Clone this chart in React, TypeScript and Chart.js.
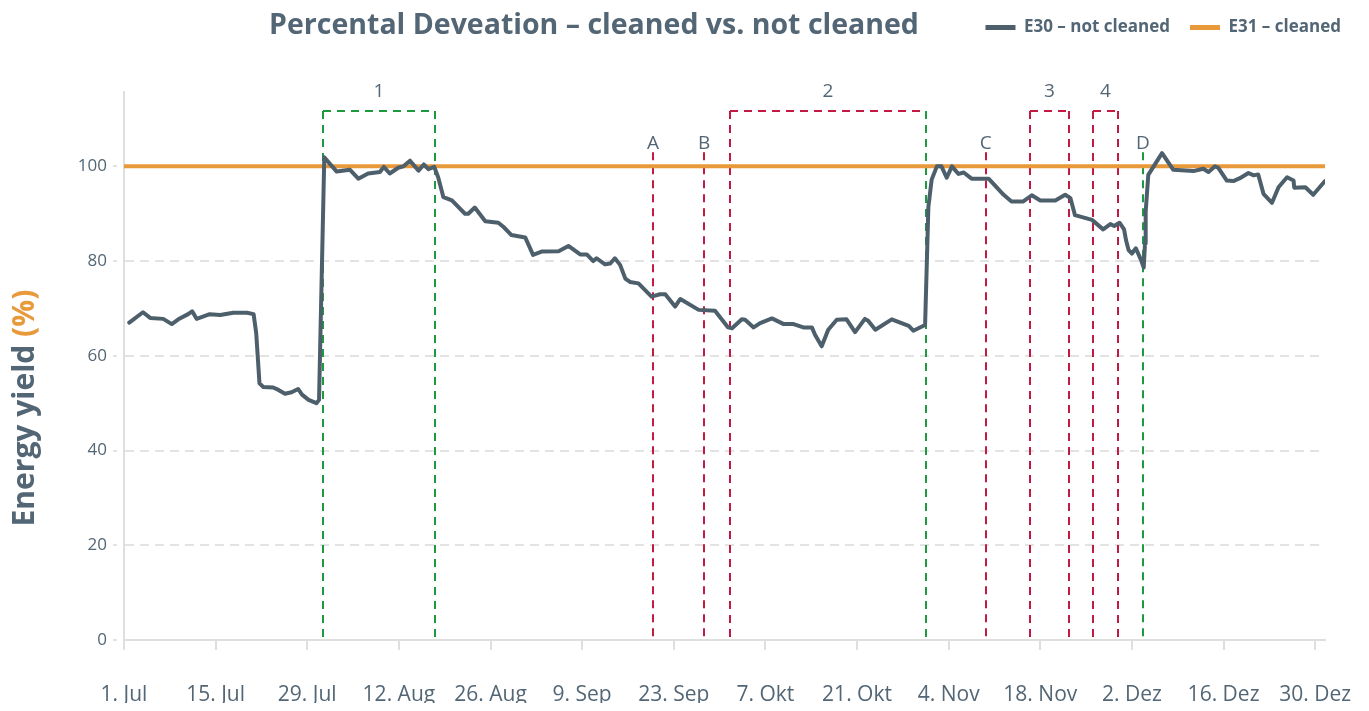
import React, { useEffect, useRef } from 'react';
import { Chart, registerables } from 'chart.js';

Chart.register(...registerables);

// ---------- data ----------
const tickLabels = ['1. Jul', '15. Jul', '29. Jul', '12. Aug', '26. Aug', '9. Sep', '23. Sep', '7. Okt', '21. Okt', '4. Nov', '18. Nov', '2. Dez', '16. Dez', '30. Dez'];
const tickStepDays = 14;
const axisMaxDay = 183.5;
const yAxisMax = 115.7;
const yTickStep = 20;

const chartTitle = 'Percental Deveation – cleaned vs. not cleaned';
const yTitleMain = 'Energy yield ';
const yTitleUnit = '(%)';

const seriesNames = ['E30 – not cleaned', 'E31 – cleaned'];

// day offsets from 1. Jul
const notCleanedDays = [
  0.8, 2.9, 4.0, 6.0, 7.3, 8.3, 9.8, 10.4, 10.6, 11.1, 13.1, 14.7, 16.7, 18.8, 19.8, 20.2, 20.7, 21.3, 22.8, 23.6,
  24.6, 25.6, 26.6, 27.2, 28.2, 29.4, 29.8, 30.6, 32.5, 34.5, 35.8, 37.3, 39.1, 39.7, 40.6, 41.9, 42.7, 43.7, 45.0, 45.8,
  46.5, 47.4, 48.0, 48.8, 50.1, 52.1, 52.6, 53.6, 55.2, 57.2, 58.0, 59.2, 61.3, 62.5, 63.8, 66.4, 67.9, 69.7, 70.7, 71.7,
  72.2, 73.5, 74.3, 75.0, 75.8, 76.6, 77.3, 78.6, 80.6, 81.9, 82.7, 84.2, 85.0, 87.8, 90.3, 92.3, 92.9, 94.4, 94.9, 96.2,
  97.2, 99.0, 100.8, 102.3, 103.8, 105.1, 105.6, 106.6, 107.6, 108.9, 110.4, 111.7, 113.2, 113.7, 114.8, 117.3, 119.9, 120.6, 122.4, 122.9,
  123.4, 124.2, 124.9, 125.7, 126.5, 127.5, 128.3, 129.5, 132.1, 134.4, 135.6, 137.4, 138.7, 140.0, 142.3, 143.8, 144.6, 145.3, 147.9, 149.6,
  150.7, 151.3, 152.1, 152.8, 153.1, 153.5, 154.0, 154.6, 155.4, 155.8, 156.0, 156.1, 156.5, 158.6, 160.3, 163.4, 164.9, 165.7, 166.7, 167.2,
  168.5, 169.5, 170.5, 171.8, 172.6, 173.3, 174.1, 175.4, 176.4, 177.7, 178.7, 178.8, 180.5, 181.7, 183.5,
];
const notCleanedValues = [
  67.0, 69.2, 68.0, 67.8, 66.7, 67.7, 68.8, 69.4, 69.0, 67.8, 68.8, 68.6, 69.1, 69.1, 68.8, 64.8, 54.2, 53.4, 53.3, 52.8,
  52.0, 52.3, 53.0, 51.8, 50.7, 50.0, 50.7, 101.9, 98.9, 99.3, 97.4, 98.5, 98.8, 99.9, 98.5, 99.7, 100.0, 101.2, 99.1, 100.4,
  99.4, 99.9, 97.7, 93.5, 92.8, 90.0, 90.0, 91.3, 88.4, 88.1, 87.2, 85.5, 85.0, 81.3, 82.0, 82.1, 83.2, 81.4, 81.4, 80.0,
  80.6, 79.3, 79.5, 80.6, 79.2, 76.3, 75.6, 75.3, 72.5, 73.0, 73.0, 70.4, 72.0, 69.7, 69.5, 66.0, 65.8, 67.7, 67.6, 66.0,
  66.9, 67.9, 66.7, 66.7, 66.0, 66.0, 64.4, 62.0, 65.5, 67.6, 67.7, 65.0, 67.8, 67.4, 65.5, 67.7, 66.3, 65.3, 66.5, 91.4,
  97.2, 100.0, 100.0, 97.6, 100.0, 98.4, 98.7, 97.4, 97.4, 94.0, 92.6, 92.6, 93.9, 92.8, 92.8, 94.0, 93.3, 89.7, 88.7, 86.7,
  87.8, 87.4, 88.1, 86.7, 84.4, 82.3, 81.6, 82.7, 80.2, 78.6, 83.7, 90.4, 98.2, 102.8, 99.3, 99.0, 99.5, 98.8, 100.0, 99.7,
  97.0, 96.9, 97.5, 98.6, 98.1, 98.3, 94.2, 92.3, 95.6, 97.7, 97.0, 95.5, 95.6, 94.0, 96.9,
];

const cleanedDays = [0, 183.5];
const cleanedValues = [100, 100];

// marked periods (boxes) and events (letters)
const periodLabels = ['1', '2', '3', '4'];
const periodStarts = [30.4, 92.53, 138.43, 148.05];
const periodEnds = [47.5, 122.55, 144.38, 151.87];
const periodStartKinds = ['green', 'red', 'red', 'red'];
const periodEndKinds = ['green', 'green', 'red', 'red'];
const periodTopKinds = ['green', 'red', 'red', 'red'];
const periodTopValue = 111.7;

const eventLabels = ['A', 'B', 'C', 'D'];
const eventDays = [80.82, 88.62, 131.67, 155.69];
const eventKinds = ['red', 'red', 'red', 'green'];
const eventTopValue = 103;

// ---------- styles ----------
const FONT = "'Open Sans', sans-serif";
const TEXT = '#536675';
const GRAY_LINE = '#4e5f6c';
const ORANGE = '#e8993a';
const GRID = '#e3e3e3';
const AXIS = '#dfdfdf';
const KIND_COLORS: Record<string, string> = { green: '#1d9a40', red: '#c21a42' };

const legendSpacer = {
  id: 'legendSpacer',
  beforeInit(chart: any) {
    const legend = chart.legend;
    if (!legend || legend._spacerPatched) return;
    const orig = legend.fit;
    legend.fit = function () {
      orig.call(this);
      this.height += 46;
    };
    legend._spacerPatched = true;
  },
};

const marksPlugin = {
  id: 'cleaningMarks',
  beforeDatasetsDraw(chart: any) {
    const { ctx, scales } = chart;
    const x = scales.x;
    const y = scales.y;
    const base = y.getPixelForValue(0);
    const boxTop = y.getPixelForValue(periodTopValue);
    const evTop = y.getPixelForValue(eventTopValue);
    ctx.save();
    ctx.lineWidth = 2;
    ctx.setLineDash([8, 6]);
    const vline = (day: number, top: number, kind: string) => {
      const px = Math.round(x.getPixelForValue(day));
      ctx.strokeStyle = KIND_COLORS[kind];
      ctx.beginPath();
      ctx.moveTo(px, top);
      ctx.lineTo(px, base);
      ctx.stroke();
    };
    periodLabels.forEach((_, i) => {
      const x1 = Math.round(x.getPixelForValue(periodStarts[i]));
      const x2 = Math.round(x.getPixelForValue(periodEnds[i]));
      ctx.strokeStyle = KIND_COLORS[periodTopKinds[i]];
      ctx.beginPath();
      ctx.moveTo(x1, boxTop);
      ctx.lineTo(x2, boxTop);
      ctx.stroke();
      vline(periodStarts[i], boxTop, periodStartKinds[i]);
      vline(periodEnds[i], boxTop, periodEndKinds[i]);
    });
    eventLabels.forEach((_, i) => vline(eventDays[i], evTop, eventKinds[i]));
    ctx.setLineDash([]);
    ctx.fillStyle = TEXT;
    ctx.font = `19px ${FONT}`;
    ctx.textAlign = 'center';
    ctx.textBaseline = 'middle';
    periodLabels.forEach((lab, i) => {
      const cx = (x.getPixelForValue(periodStarts[i]) + x.getPixelForValue(periodEnds[i])) / 2;
      ctx.fillText(lab, cx, boxTop - 19);
    });
    eventLabels.forEach((lab, i) => {
      ctx.fillText(lab, x.getPixelForValue(eventDays[i]), evTop - 9);
    });
    ctx.restore();
  },
};

const titlesPlugin = {
  id: 'titles',
  afterDraw(chart: any) {
    const { ctx } = chart;
    ctx.save();
    ctx.fillStyle = TEXT;
    ctx.font = `bold 28.5px ${FONT}`;
    ctx.textAlign = 'center';
    ctx.textBaseline = 'alphabetic';
    ctx.fillText(chartTitle, 586, 26);

    ctx.font = `bold 30px ${FONT}`;
    ctx.translate(26, 400);
    ctx.rotate(-Math.PI / 2);
    const w1 = ctx.measureText(yTitleMain).width;
    const w2 = ctx.measureText(yTitleUnit).width;
    const start = -(w1 + w2) / 2;
    ctx.textAlign = 'left';
    ctx.fillStyle = TEXT;
    ctx.fillText(yTitleMain, start, 0);
    ctx.fillStyle = ORANGE;
    ctx.fillText(yTitleUnit, start + w1, 0);
    ctx.restore();
  },
};

export default function App() {
  const canvasRef = useRef<HTMLCanvasElement | null>(null);

  useEffect(() => {
    if (!canvasRef.current) return;
    Chart.defaults.font.family = FONT;
    const chart = new Chart(canvasRef.current, {
      type: 'line',
      data: {
        datasets: [
          {
            label: seriesNames[0],
            data: notCleanedDays.map((d, i) => ({ x: d, y: notCleanedValues[i] })),
            borderColor: GRAY_LINE,
            backgroundColor: GRAY_LINE,
            borderWidth: 4,
            pointRadius: 0,
            tension: 0,
            borderJoinStyle: 'round',
            borderCapStyle: 'round',
            yAxisID: 'y',
            xAxisID: 'x',
          },
          {
            label: seriesNames[1],
            data: cleanedDays.map((d, i) => ({ x: d, y: cleanedValues[i] })),
            borderColor: ORANGE,
            backgroundColor: ORANGE,
            borderWidth: 4,
            pointRadius: 0,
            tension: 0,
            yAxisID: 'y',
            xAxisID: 'x',
          },
        ],
      },
      options: {
        animation: false,
        responsive: true,
        maintainAspectRatio: false,
        layout: { padding: { top: -9, left: 0, right: 0, bottom: 0 } },
        plugins: {
          title: { display: false },
          tooltip: { enabled: false },
          legend: {
            display: true,
            position: 'top',
            align: 'end',
            labels: {
              boxWidth: 30,
              boxHeight: 5,
              padding: 20,
              color: TEXT,
              font: { family: FONT, size: 17, weight: 'bold' },
              generateLabels: (c: any) =>
                Chart.defaults.plugins.legend.labels.generateLabels(c).map((l: any) => ({ ...l, lineWidth: 0 })),
            },
          },
        },
        scales: {
          x: {
            type: 'linear',
            position: 'bottom',
            min: 0,
            max: axisMaxDay,
            afterBuildTicks: (s: any) => {
              s.ticks = tickLabels.map((_, i) => ({ value: i * tickStepDays }));
            },
            afterFit: (s: any) => {
              s.height = 71;
              s.paddingLeft = 0;
              s.paddingRight = 0;
            },
            ticks: {
              autoSkip: false,
              maxRotation: 0,
              padding: 32,
              color: TEXT,
              font: { family: FONT, size: 21 },
              callback: (v: any) => tickLabels[Math.round(Number(v) / tickStepDays)] ?? '',
            },
            grid: { drawOnChartArea: false, drawTicks: true, tickLength: 10, color: AXIS, lineWidth: 2 },
            border: { display: true, color: AXIS, width: 2 },
          },
          y: {
            type: 'linear',
            position: 'left',
            min: 0,
            max: yAxisMax,
            afterFit: (s: any) => {
              s.width = 116;
            },
            ticks: {
              stepSize: yTickStep,
              includeBounds: false,
              padding: 6,
              color: TEXT,
              font: { family: FONT, size: 17 },
            },
            grid: { color: GRID, lineWidth: 2, tickLength: 11, tickBorderDash: [4, 20], tickColor: GRID },
            border: { display: true, color: AXIS, width: 2, dash: [9, 6] },
          },
          yRight: {
            type: 'linear',
            position: 'right',
            display: true,
            afterFit: (s: any) => {
              s.width = 36;
              s.paddingTop = 0;
              s.paddingBottom = 0;
            },
            ticks: { display: false },
            grid: { display: false, drawTicks: false },
            border: { display: false },
          },
        },
      } as any,
      plugins: [legendSpacer, marksPlugin, titlesPlugin],
    });
    return () => chart.destroy();
  }, []);

  return (
    <div style={{ position: 'relative', width: '1353px', height: '703px', marginBottom: '-8px' }}>
      <canvas ref={canvasRef} />
    </div>
  );
}
